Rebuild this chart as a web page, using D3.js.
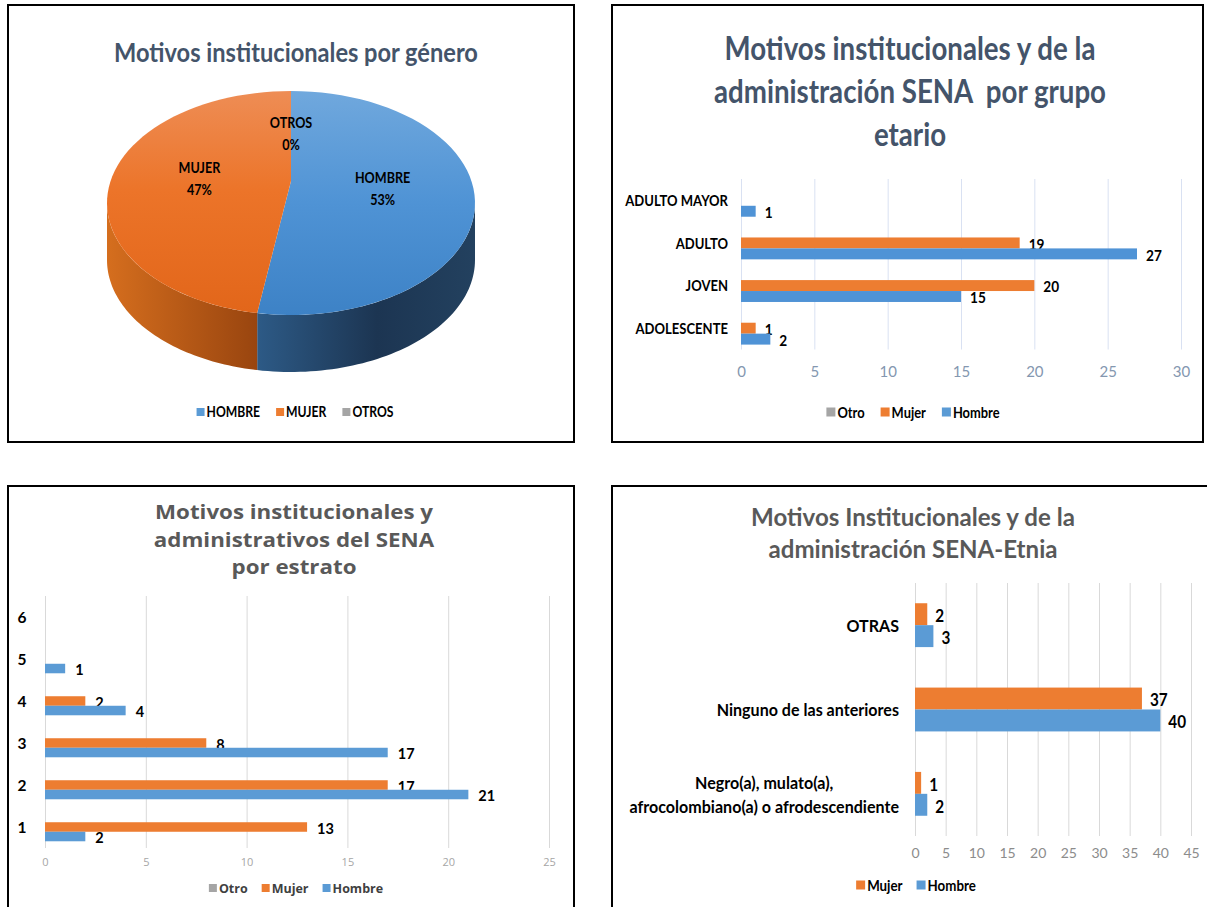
<!DOCTYPE html>
<html><head><meta charset="utf-8">
<script src="https://cdn.jsdelivr.net/npm/d3@7"></script>
<style>body{margin:0;background:#fff}svg{display:block}text{white-space:pre}</style>
</head><body><svg id="c" width="1207" height="907"></svg>
<script>
// ---------------- DATA ----------------
const pieCategories = ["HOMBRE", "MUJER", "OTROS"];
const pieValues = [45, 40, 0];

const ageCategories = ["ADULTO MAYOR", "ADULTO", "JOVEN", "ADOLESCENTE"];
const ageHombre = [1, 27, 15, 2];
const ageMujer = [0, 19, 20, 1];
const ageOtro = [0, 0, 0, 0];
const ageTicks = [0, 5, 10, 15, 20, 25, 30];

const estratoCategories = ["6", "5", "4", "3", "2", "1"];
const estratoHombre = [0, 1, 4, 17, 21, 2];
const estratoMujer = [0, 0, 2, 8, 17, 13];
const estratoOtro = [0, 0, 0, 0, 0, 0];
const estratoTicks = [0, 5, 10, 15, 20, 25];

const etniaCategories = ["OTRAS", "Ninguno de las anteriores", "Negro(a), mulato(a),\nafrocolombiano(a) o afrodescendiente"];
const etniaHombre = [3, 40, 2];
const etniaMujer = [2, 37, 1];
const etniaTicks = [0, 5, 10, 15, 20, 25, 30, 35, 40, 45];

const seriesNames = ["Otro", "Mujer", "Hombre"];
const titles = {
  p1: ["Motivos institucionales por género"],
  p2: ["Motivos institucionales y de la", "administración SENA  por grupo", "etario"],
  p3: ["Motivos institucionales y", "administrativos del SENA", "por estrato"],
  p4: ["Motivos Institucionales y de la", "administración SENA-Etnia"]
};

// ---------------- HELPERS ----------------
const CAL = "Lato, 'Noto Sans', sans-serif";
const OPEN = "'Open Sans', 'Noto Sans', sans-serif";
const C_H = "#5b9bd5", C_M = "#ed7d31", C_O = "#a5a5a5";
const SX = 0.88;

const svg = d3.select("#c");
svg.append("rect").attr("width", 1207).attr("height", 907).attr("fill", "#fff");
const defs = svg.append("defs");
function grad(id, stops, x1, y1, x2, y2) {
  const g = defs.append("linearGradient").attr("id", id)
    .attr("x1", x1).attr("y1", y1).attr("x2", x2).attr("y2", y2);
  stops.forEach(([o, c]) => g.append("stop").attr("offset", o).attr("stop-color", c));
}
grad("hTop", [[0, "#70a8dd"], [0.5, "#4f93d5"], [1, "#3d82c6"]], 0, 0, 0, 1);
grad("mTop", [[0, "#ee8d55"], [0.45, "#ec7429"], [1, "#e2661a"]], 0, 0, 0, 1);
grad("hSide", [[0, "#2d5a86"], [0.55, "#1c3552"], [1, "#23415f"]], 0, 0, 1, 0);
grad("mSide", [[0, "#d56e1e"], [1, "#99450f"]], 0, 0, 1, 0);

function txt(g, x, y, str, o = {}) {
  const sx = o.sx == null ? SX : o.sx;
  return g.append("text")
    .attr("transform", `translate(${x},${y}) scale(${sx},1)`)
    .attr("font-family", o.ff || CAL)
    .attr("font-size", o.fs || 14)
    .attr("font-weight", o.fw || 700)
    .attr("fill", o.fill || "#000")
    .attr("text-anchor", o.anchor || "start")
    .attr("dominant-baseline", "central")
    .text(str);
}

function title(lines, cx, ys, o) {
  const g = svg.append("g");
  const ts = lines.map((l, i) => txt(g, cx, ys[i], l, Object.assign({}, o, {anchor: "middle", sx: 1})));
  if (o.target) {
    const w = ts[0].node().getComputedTextLength();
    const sx = o.target / w;
    ts.forEach((t, i) => t.attr("transform", `translate(${cx},${ys[i]}) scale(${sx},1)`));
  }
}

function legend(items, cx, y, o) {
  const g = svg.append("g");
  let xp = 0;
  const sx = o.sx == null ? SX : o.sx;
  items.forEach(it => {
    g.append("rect").attr("x", xp).attr("y", y - o.sq / 2).attr("width", o.sq).attr("height", o.sq).attr("fill", it.color);
    xp += o.sq + 2;
    const t = txt(g, xp, y, it.name, {ff: o.ff, fs: o.fs, fill: o.fill, sx});
    xp += t.node().getComputedTextLength() * sx + o.gap;
  });
  const total = xp - o.gap;
  g.attr("transform", `translate(${cx - total / 2},0)`);
}

function panel(x, y, w, h) {
  svg.append("rect").attr("x", x).attr("y", y).attr("width", w).attr("height", h)
    .attr("fill", "none").attr("stroke", "#000").attr("stroke-width", 2);
}

function barChart(cfg) {
  const g = svg.append("g");
  const x = d3.scaleLinear().domain([0, cfg.ticks[cfg.ticks.length - 1]]).range([cfg.x0, cfg.x1]);
  const y = d3.scaleBand().domain(cfg.categories).range([cfg.y0, cfg.y1])
    .paddingInner(cfg.pad).paddingOuter(cfg.pad / 2);
  const ys = d3.scaleBand().domain(cfg.series.map(s => s.name)).range([0, y.bandwidth()]);

  const ax = g.append("g").attr("transform", `translate(0,${cfg.y1})`)
    .call(d3.axisBottom(x).tickValues(cfg.ticks).tickSize(-(cfg.y1 - cfg.y0)).tickPadding(cfg.tickPad).tickFormat(d3.format("d")));
  ax.select(".domain").remove();
  ax.selectAll("line").attr("stroke", cfg.gridColor).attr("stroke-width", 1);
  ax.selectAll("text").attr("fill", cfg.tickColor).attr("font-family", cfg.tickFont).attr("font-size", cfg.tickSize);

  cfg.series.forEach(s => {
    const data = cfg.categories.map((c, i) => ({c, v: s.values[i]}));
    g.append("g").selectAll("rect").data(data).join("rect")
      .attr("x", x(0)).attr("y", d => y(d.c) + ys(s.name))
      .attr("width", d => x(d.v) - x(0)).attr("height", ys.bandwidth())
      .attr("fill", s.color);
    const lg = g.append("g");
    data.filter(d => d.v > 0).forEach(d => {
      txt(lg, x(d.v) + cfg.valOff, y(d.c) + ys(s.name) + ys.bandwidth() / 2 + 1, String(d.v),
        {ff: cfg.valFont, fs: cfg.valSize, sx: cfg.valSx});
    });
  });

  const cg = g.append("g");
  cfg.categories.forEach(c => {
    const cy = y(c) + y.bandwidth() / 2;
    const lines = c.split("\n");
    if (lines.length === 1) {
      txt(cg, cfg.labelX, cy + (cfg.labelDy || 0), c, {ff: cfg.catFont, fs: cfg.catSize, anchor: cfg.labelAnchor, sx: cfg.catSx});
    } else {
      const lh = cfg.catSize * 1.38;
      const ts = lines.map((l, i) => txt(cg, 0, 0, l, {ff: cfg.catFont, fs: cfg.catSize, anchor: "middle", sx: cfg.catSx}));
      const maxW = d3.max(ts, t => t.node().getComputedTextLength()) * cfg.catSx;
      const mx = cfg.labelX - maxW / 2;
      ts.forEach((t, i) => t.attr("transform",
        `translate(${mx},${cy + (i - (lines.length - 1) / 2) * lh}) scale(${cfg.catSx},1)`));
    }
  });
}

// ---------------- PANEL 1: 3D PIE ----------------
panel(8, 5, 566, 437);
title(titles.p1, 296, [52], {fs: 26, fill: "#44546a", target: 364});

(function () {
  const g = svg.append("g");
  const total = d3.sum(pieValues);
  const arcs = d3.pie().sort(null).value(d => d)(pieValues);
  const cx = 291, cy = 203, rx = 184, ry = 112, depth = 57, apexDy = -22;
  const pt = (a, dy = 0) => [cx + rx * Math.sin(a), cy - ry * Math.cos(a) + dy];
  const along = (a0, a1, dy) => d3.range(0, 61).map(i => pt(a0 + (a1 - a0) * i / 60, dy));
  const tops = ["url(#hTop)", "url(#mTop)", C_O];
  const sides = ["url(#hSide)", "url(#mSide)", "#7f7f7f"];
  const line = d3.line();
  arcs.forEach((a, i) => {
    const s0 = Math.max(a.startAngle, Math.PI / 2), s1 = Math.min(a.endAngle, 3 * Math.PI / 2);
    if (s1 <= s0) return;
    const pts = along(s0, s1, 0).concat(along(s1, s0, depth));
    g.append("path").attr("d", line(pts) + "Z").attr("fill", sides[i]);
  });
  arcs.forEach((a, i) => {
    if (a.endAngle - a.startAngle <= 0) return;
    const pts = [[cx, cy + apexDy]].concat(along(a.startAngle, a.endAngle, 0));
    g.append("path").attr("d", line(pts) + "Z").attr("fill", tops[i]);
  });
  const pf = d3.format(".0%");
  arcs.forEach((a, i) => {
    const m = (a.startAngle + a.endAngle) / 2;
    const lx = cx + 0.5 * rx * Math.sin(m);
    const ly = cy + apexDy - 0.5 * ry * Math.cos(m) + (a.endAngle === a.startAngle ? 8 : 2);
    txt(g, lx, ly - 11, pieCategories[i], {fs: 15, anchor: "middle", sx: 0.84});
    txt(g, lx, ly + 11, pf(pieValues[i] / total), {fs: 15, anchor: "middle", sx: 0.84});
  });
})();
legend(pieCategories.map((n, i) => ({name: n, color: [C_H, C_M, C_O][i]})), 295, 412,
  {sq: 8, fs: 14.5, gap: 16, fill: "#000", sx: 0.84});

// ---------------- PANEL 2: AGE GROUP ----------------
panel(612, 5, 591, 437);
title(titles.p2, 910, [47, 90, 133], {fs: 32, fill: "#44546a", target: 371});
barChart({
  categories: ageCategories, ticks: ageTicks,
  series: [{name: "Otro", values: ageOtro, color: C_O}, {name: "Mujer", values: ageMujer, color: C_M}, {name: "Hombre", values: ageHombre, color: "#4f93d6"}],
  x0: 741, x1: 1181, y0: 179, y1: 349.5, pad: 0.23,
  gridColor: "#d9e1f2", tickColor: "#8497b0", tickFont: CAL, tickSize: 15, tickPad: 17,
  valFont: CAL, valSize: 15.5, valOff: 9, valSx: 0.88,
  catFont: CAL, catSize: 15, catSx: 0.87, labelX: 728, labelAnchor: "end", labelDy: 0
});
legend(seriesNames.map((n, i) => ({name: n, color: [C_O, C_M, C_H][i]})), 913, 412,
  {sq: 9, fs: 15, gap: 16, fill: "#000", sx: 0.86});

// ---------------- PANEL 3: ESTRATO ----------------
panel(8, 486, 566, 440);
title(titles.p3, 294, [512, 540, 567], {ff: OPEN, fs: 19, fill: "#595959", target: 278});
barChart({
  categories: estratoCategories, ticks: estratoTicks,
  series: [{name: "Otro", values: estratoOtro, color: C_O}, {name: "Mujer", values: estratoMujer, color: C_M}, {name: "Hombre", values: estratoHombre, color: C_H}],
  x0: 45, x1: 549, y0: 596, y1: 848, pad: 0.32,
  gridColor: "#d9d9d9", tickColor: "#a6a6a6", tickFont: OPEN, tickSize: 11, tickPad: 10,
  valFont: CAL, valSize: 14.5, valOff: 10, valSx: 1,
  catFont: CAL, catSize: 15.5, catSx: 1, labelX: 22, labelAnchor: "middle", labelDy: 0
});
legend(seriesNames.map((n, i) => ({name: n, color: [C_O, C_M, C_H][i]})), 296, 888,
  {sq: 8, fs: 12.5, gap: 14, fill: "#404040", ff: OPEN, sx: 1});

// ---------------- PANEL 4: ETNIA ----------------
panel(612, 486, 620, 440);
title(titles.p4, 913, [517, 549], {fs: 24, fill: "#595959", target: 324});
barChart({
  categories: etniaCategories, ticks: etniaTicks,
  series: [{name: "Mujer", values: etniaMujer, color: C_M}, {name: "Hombre", values: etniaHombre, color: C_H}],
  x0: 915, x1: 1191, y0: 583, y1: 836, pad: 0.48,
  gridColor: "#d9d9d9", tickColor: "#8c8c8c", tickFont: CAL, tickSize: 14, tickPad: 12,
  valFont: CAL, valSize: 17, valOff: 8, valSx: 0.9,
  catFont: CAL, catSize: 17.5, catSx: 0.92, labelX: 899, labelAnchor: "end", labelDy: 0
});
legend(["Mujer", "Hombre"].map((n, i) => ({name: n, color: [C_M, C_H][i]})), 916, 885,
  {sq: 9, fs: 15.5, gap: 14, fill: "#000", sx: 0.86});
</script>
</body></html>
